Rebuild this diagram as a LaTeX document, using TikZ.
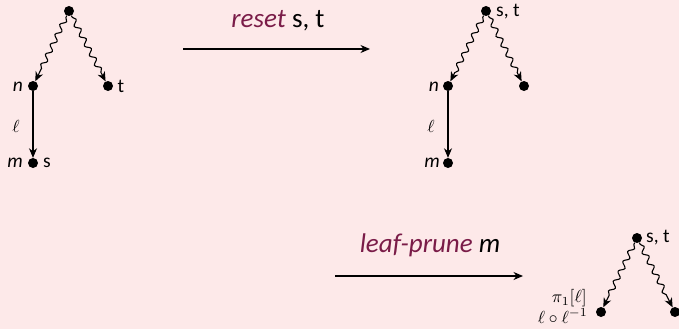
\documentclass[tikz,border=0pt]{standalone}
\usepackage{fontspec}
\setmainfont{Carlito}
\usetikzlibrary{arrows.meta,decorations.pathmorphing}
\definecolor{bg}{RGB}{253,233,233}
\definecolor{kw}{RGB}{122,28,72}
\begin{document}
\begin{tikzpicture}[x=1pt,y=-1pt,
  dot/.style={circle,fill=black,inner sep=0pt,minimum size=10pt},
  lbl/.style={font=\fontsize{19.5}{21}\selectfont,inner sep=0pt},
  mlbl/.style={inner sep=0pt,scale=1.75},
  big/.style={font=\fontsize{27}{30}\selectfont,inner sep=0pt},
  tip/.style={-{Stealth[length=9.5pt,width=8pt,inset=3pt]}},
  wav/.style={tip,line width=1.1pt,decorate,
    decoration={snake,amplitude=2.5pt,segment length=11pt,pre length=2pt,post length=9pt}},
  str/.style={tip,line width=1.1pt}]
\fill[bg] (0,0) rectangle (679,329);
\useasboundingbox (0,0) rectangle (679,329);
% tree 1
\node[dot] (r1) at (69,11) {};
\node[dot] (n1) at (33,86) {};
\node[dot] (t1) at (108,86) {};
\node[dot] (m1) at (33,163) {};
\draw[wav] (r1) -- (n1);
\draw[wav] (r1) -- (t1);
\draw[str] (n1) -- (m1);
\node[lbl] (n1l) at (18,87) {\textit{n}};
\node[lbl] (t1l) at (121,86) {t};
\node[mlbl] (e1l) at (16,126) {$\ell$};
\node[lbl] (m1l) at (15,163) {\textit{m}};
\node[lbl] (s1l) at (47,163) {s};
% arrow 1
\coordinate (a1s) at (183,49);
\coordinate (a1e) at (370,49);
\draw[str] (a1s) -- (a1e);
\node[big] (a1l) at (278,21) {\textcolor{kw}{\textit{reset}} s, t};
% tree 2
\node[dot] (r2) at (486,11) {};
\node[dot] (n2) at (448,86) {};
\node[dot] (c2) at (524,86) {};
\node[dot] (m2) at (448,163) {};
\draw[wav] (r2) -- (n2);
\draw[wav] (r2) -- (c2);
\draw[str] (n2) -- (m2);
\node[lbl,anchor=west] (r2l) at (496,12) {s, t};
\node[lbl] (n2l) at (434,87) {\textit{n}};
\node[mlbl] (e2l) at (431,126) {$\ell$};
\node[lbl] (m2l) at (432,163) {\textit{m}};
% arrow 2
\coordinate (a2s) at (335,276);
\coordinate (a2e) at (523,276);
\draw[str] (a2s) -- (a2e);
\node[big] (a2l) at (430,245) {\textcolor{kw}{\textit{leaf-prune}} \textit{m}};
% tree 3
\node[dot] (r3) at (637,238) {};
\node[dot] (l3) at (601,312) {};
\node[dot] (c3) at (675,312) {};
\draw[wav] (r3) -- (l3);
\draw[wav] (r3) -- (c3);
\node[lbl,anchor=west] (r3l) at (646,238) {s, t};
\node[mlbl,anchor=east] (p3l) at (587,298) {$\pi_1[\ell]$};
\node[mlbl,anchor=east] (q3l) at (588,316) {$\ell\circ\ell^{-1}$};
\end{tikzpicture}
\end{document}
